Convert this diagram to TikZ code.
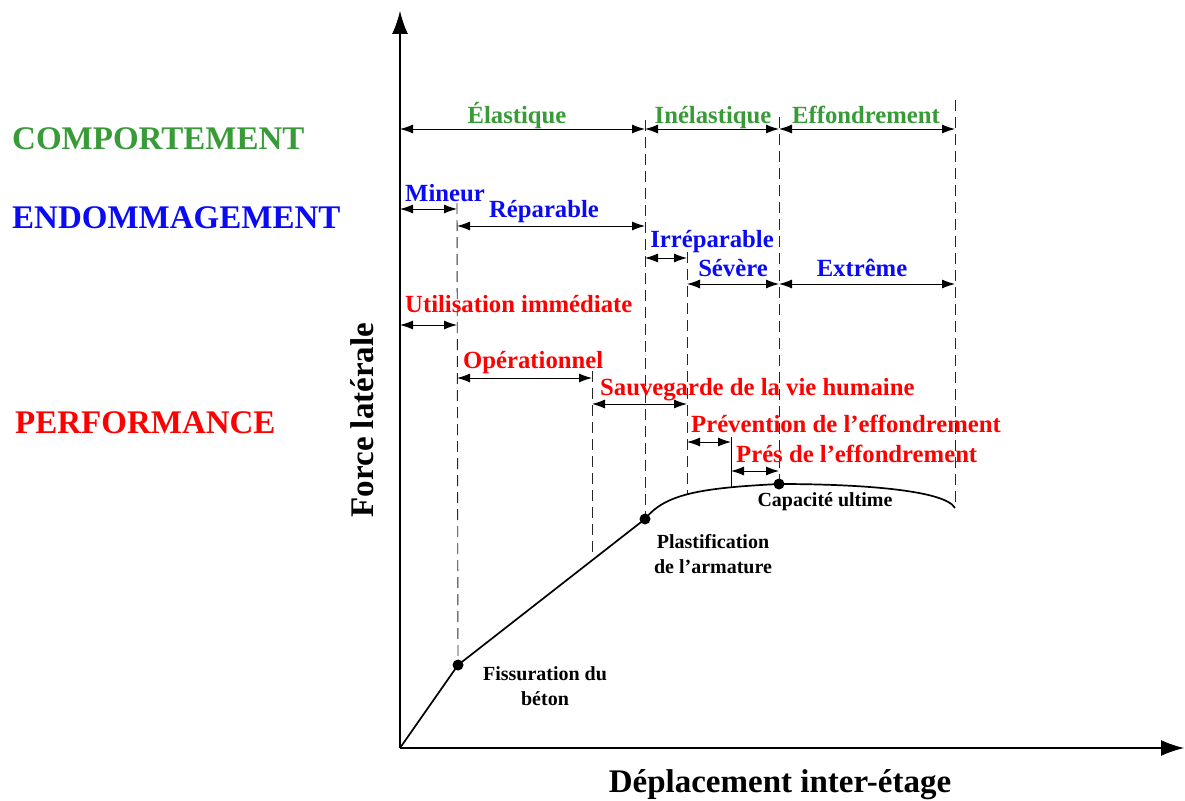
\documentclass[tikz,border=0pt]{standalone}
\usepackage{fontspec}
\setmainfont{Liberation Serif}
\usetikzlibrary{arrows.meta}
\definecolor{cgreen}{RGB}{56,155,56}
\definecolor{cblue}{RGB}{10,10,245}
\definecolor{cred}{RGB}{255,0,0}
\begin{document}
\begin{tikzpicture}[x=1pt,y=-1pt,
  seg/.style={{Latex[length=13pt,width=9pt]}-{Latex[length=13pt,width=9pt]}, line width=0.9pt},
  guide/.style={dash pattern=on 11pt off 6pt, line width=0.9pt, black!85},
  axis/.style={-{Latex[length=23pt,width=16pt]}, line width=1.3pt},
  lbl/.style={inner sep=0pt, font=\bfseries\fontsize{24.7}{28}\selectfont},
  big/.style={inner sep=0pt, anchor=base west, font=\bfseries\fontsize{33}{38}\selectfont},
  small/.style={inner sep=0pt, anchor=base, align=center, font=\bfseries\fontsize{20}{24.5}\selectfont},
  dot/.style={circle, fill=black, inner sep=0pt, minimum size=11pt}
]
\useasboundingbox (0,0) rectangle (1185,800);

% key points
\coordinate (O) at (400,748);
\coordinate (Ytop) at (400,11);
\coordinate (Xend) at (1184,748);
\coordinate (fiss) at (458,665);
\coordinate (plast) at (645,519);
\coordinate (ult) at (779,484);
\coordinate (endc) at (955,508);

% guide lines
\coordinate (g1t) at (457,203);
\coordinate (g2t) at (592,371); \coordinate (g2b) at (592,558);
\coordinate (g3t) at (645,120);
\coordinate (g4t) at (687,252); \coordinate (g4b) at (687,495);
\coordinate (g5t) at (731,437); \coordinate (g5b) at (731,487);
\coordinate (g6t) at (779,117);
\coordinate (g7t) at (955,100);
\draw[guide] (g1t) -- (fiss);
\draw[guide] (g2t) -- (g2b);
\draw[guide] (g3t) -- (plast);
\draw[guide] (g4t) -- (g4b);
\draw[line width=0.9pt] (g5t) -- (g5b);
\draw[guide] (g6t) -- (ult);
\draw[guide] (g7t) -- (endc);

% axes
\draw[axis] (O) -- (Ytop);
\draw[axis] (O) -- (Xend);

% curve
\draw[line width=1.7pt] (O) -- (fiss) -- (plast)
  .. controls (665,494) and (700,488) .. (ult)
  .. controls (860,484) and (945,490) .. (endc);
\node[dot] (dfiss) at (fiss) {};
\node[dot] (dplast) at (plast) {};
\node[dot] (dult) at (ult) {};

% behaviour arrows
\draw[seg] (400,129) coordinate (c0) -- (645,129) coordinate (c1);
\draw[seg] (c1) -- (779,129) coordinate (c2);
\draw[seg] (c2) -- (955,129) coordinate (c3);
\node[lbl, anchor=base, text=cgreen] (elas) at (517,123) {Élastique};
\node[lbl, anchor=base, text=cgreen] (inel) at (713,123) {Inélastique};
\node[lbl, anchor=base, text=cgreen] (effo) at (866,123) {Effondrement};

% damage arrows
\draw[seg] (400,209) coordinate (d0) -- (457,209) coordinate (d1);
\draw[seg] (457,226) coordinate (d2) -- (645,226) coordinate (d3);
\draw[seg] (645,258) coordinate (d4) -- (687,258) coordinate (d5);
\draw[seg] (687,284) coordinate (d6) -- (779,284) coordinate (d7);
\draw[seg] (d7) -- (955,284) coordinate (d8);
\node[lbl, anchor=base west, text=cblue] (mine) at (405,201) {Mineur};
\node[lbl, anchor=base, text=cblue] (repa) at (544,217) {Réparable};
\node[lbl, anchor=base, text=cblue] (irre) at (712,247) {Irréparable};
\node[lbl, anchor=base, text=cblue] (seve) at (733,276) {Sévère};
\node[lbl, anchor=base, text=cblue] (extr) at (862,276) {Extrême};

% performance arrows
\draw[seg] (400,325) coordinate (p0) -- (457,325) coordinate (p1);
\draw[seg] (457,378) coordinate (p2) -- (592,378) coordinate (p3);
\draw[seg] (592,404) coordinate (p4) -- (687,404) coordinate (p5);
\draw[seg] (687,442) coordinate (p6) -- (731,442) coordinate (p7);
\draw[seg] (731,471) coordinate (p8) -- (779,471) coordinate (p9);
\node[lbl, anchor=base west, text=cred] (util) at (405,312) {Utilisation immédiate};
\node[lbl, anchor=base west, text=cred] (oper) at (463,368) {Opérationnel};
\node[lbl, anchor=base west, text=cred] (sauv) at (600,395) {Sauvegarde de la vie humaine};
\node[lbl, anchor=base west, text=cred] (prev) at (691,432) {Prévention de l’effondrement};
\node[lbl, anchor=base west, text=cred] (pres) at (736,462) {Prés de l’effondrement};

% category titles
\node[big, text=cgreen] (comp) at (12,149) {COMPORTEMENT};
\node[big, text=cblue] (endo) at (12,228) {ENDOMMAGEMENT};
\node[big, text=cred] (perf) at (15,433) {PERFORMANCE};

% point labels (base anchor = last line)
\node[small] (lfiss) at (545,705) {Fissuration du\\béton};
\node[small] (lplast) at (713,573) {Plastification\\de l’armature};
\node[small] (lult) at (825,506) {Capacité ultime};

% axis titles
\node[inner sep=0pt, font=\bfseries\fontsize{33}{38}\selectfont, anchor=base] (xlab) at (780,792) {Déplacement inter-étage};
\node[inner sep=0pt, font=\bfseries\fontsize{33}{38}\selectfont, anchor=base, rotate=90] (ylab) at (373,420) {Force latérale};
\end{tikzpicture}
\end{document}
